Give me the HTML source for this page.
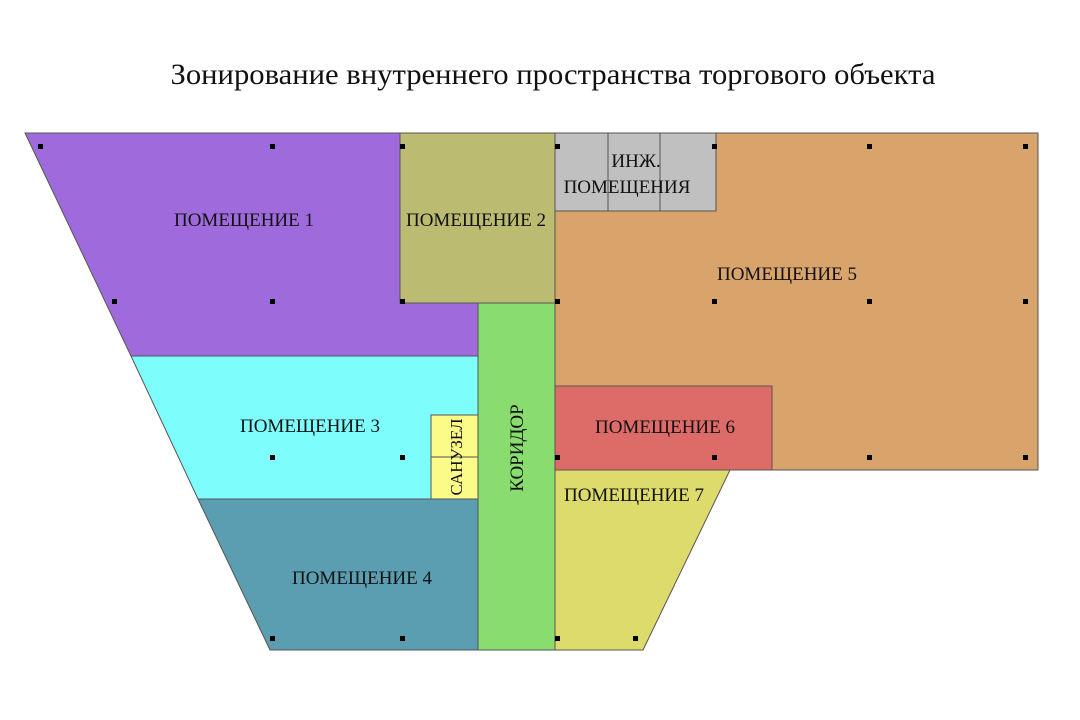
<!DOCTYPE html>
<html><head><meta charset="utf-8"><style>body{margin:0;background:#fff}svg{display:block}</style></head>
<body>
<svg width="1080" height="720" xmlns="http://www.w3.org/2000/svg" font-family="'Liberation Serif', 'Noto Serif CJK SC', serif">
<rect width="1080" height="720" fill="#fff"/>
<text x="553" y="84" font-size="30" text-anchor="middle" fill="#111" textLength="765" lengthAdjust="spacingAndGlyphs">Зонирование внутреннего пространства торгового объекта</text>
<g stroke="#555" stroke-width="1">
<polygon points="25,133 400,133 400,303 478,303 478,356 131,356" fill="#9f6bdc"/>
<rect x="400" y="133" width="155" height="170" fill="#bbbb72"/>
<polygon points="555,133 1038,133 1038,470 772,470 772,386 555,386" fill="#d9a46b"/>
<rect x="555" y="133" width="53" height="78" fill="#c0c0c0"/>
<rect x="608" y="133" width="52" height="78" fill="#c0c0c0"/>
<rect x="660" y="133" width="56" height="78" fill="#c0c0c0"/>
<rect x="478" y="303" width="77" height="347" fill="#88dd6e"/>
<polygon points="131,356 478,356 478,499 198,499" fill="#7dfdfc"/>
<rect x="431" y="415" width="47" height="42" fill="#fbfb88"/>
<rect x="431" y="457" width="47" height="42" fill="#fbfb88"/>
<polygon points="198,499 478,499 478,650 270,650" fill="#5b9db1"/>
<rect x="555" y="386" width="217" height="84" fill="#dd6b68"/>
<polygon points="555,470 730,470 643,650 555,650" fill="#dcdb6c"/>
</g>
<g fill="#000">
<rect x="38" y="144" width="5" height="5"/><rect x="270" y="144" width="5" height="5"/><rect x="400" y="144" width="5" height="5"/><rect x="555" y="144" width="5" height="5"/><rect x="712" y="144" width="5" height="5"/><rect x="867" y="144" width="5" height="5"/><rect x="1023" y="144" width="5" height="5"/>
<rect x="112" y="299" width="5" height="5"/><rect x="270" y="299" width="5" height="5"/><rect x="400" y="299" width="5" height="5"/><rect x="555" y="299" width="5" height="5"/><rect x="712" y="299" width="5" height="5"/><rect x="867" y="299" width="5" height="5"/><rect x="1023" y="299" width="5" height="5"/>
<rect x="270" y="455" width="5" height="5"/><rect x="400" y="455" width="5" height="5"/><rect x="555" y="455" width="5" height="5"/><rect x="712" y="455" width="5" height="5"/><rect x="867" y="455" width="5" height="5"/><rect x="1023" y="455" width="5" height="5"/>
<rect x="270" y="636" width="5" height="5"/><rect x="400" y="636" width="5" height="5"/><rect x="555" y="636" width="5" height="5"/><rect x="633" y="636" width="5" height="5"/>
</g>
<g font-size="19" fill="#111" text-anchor="middle">
<text x="244" y="226">ПОМЕЩЕНИЕ 1</text>
<text x="476" y="226">ПОМЕЩЕНИЕ 2</text>
<text x="636" y="167">ИНЖ.</text>
<text x="627" y="193">ПОМЕЩЕНИЯ</text>
<text x="787" y="280">ПОМЕЩЕНИЕ 5</text>
<text x="310" y="432">ПОМЕЩЕНИЕ 3</text>
<text x="665" y="433">ПОМЕЩЕНИЕ 6</text>
<text x="634" y="501">ПОМЕЩЕНИЕ 7</text>
<text x="362" y="584">ПОМЕЩЕНИЕ 4</text>
<text transform="translate(523,448) rotate(-90)">КОРИДОР</text>
<text transform="translate(462,457) rotate(-90)" font-size="17">САНУЗЕЛ</text>
</g>
</svg>
</body></html>
